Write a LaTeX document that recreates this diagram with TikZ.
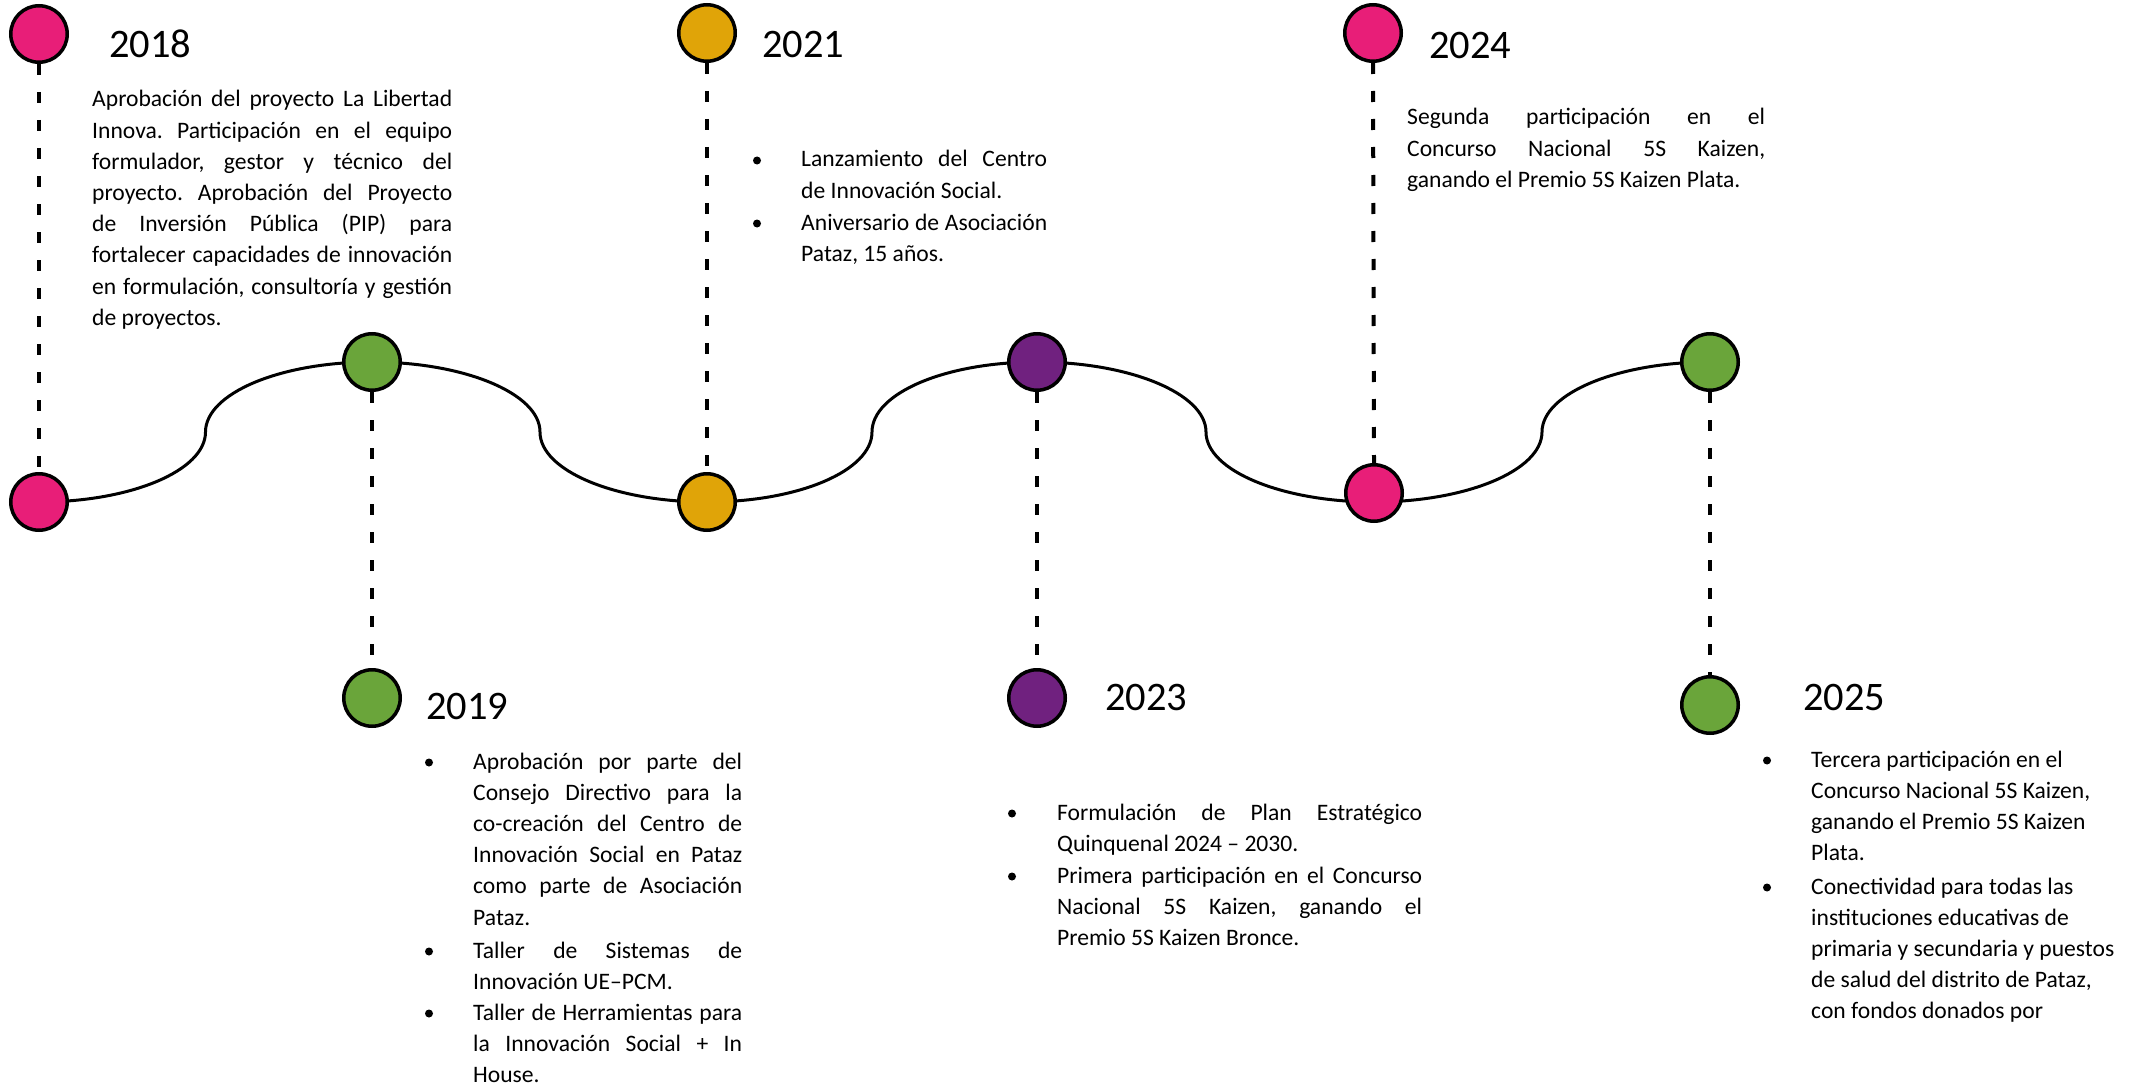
\documentclass[tikz,border=0pt]{standalone}
\usepackage{fontspec}
\setmainfont{Carlito}
\usetikzlibrary{backgrounds}
\definecolor{cpink}{RGB}{232,30,120}
\definecolor{cgreen}{RGB}{106,165,58}
\definecolor{cgold}{RGB}{224,164,8}
\definecolor{cpurple}{RGB}{112,33,127}
\hbadness=10000 \hfuzz=60pt
\frenchspacing
\newcommand\jl[1]{\hbox to\linewidth{#1}}
\newcommand\jlast[1]{\hbox to\linewidth{#1\hfil}}
\newcommand\tb[2]{\parbox[t]{#1}{\frenchspacing\fontsize{23.6}{31.2}\selectfont #2}}
\tikzset{
  dot/.style={circle, draw=black, line width=3.5pt, minimum size=56.5pt, inner sep=0pt},
  year/.style={inner sep=0pt, anchor=base west, font=\fontsize{40.5}{48}\selectfont},
  body/.style={inner sep=0pt, anchor=base west},
  bul/.style={circle, fill=black, minimum size=8pt, inner sep=0pt},
  dashline/.style={line width=4pt, dash pattern=on 11pt off 17pt},
  wave/.style={line width=3pt},
  up/.style={out=0, in=-90, out distance=92pt, in distance=38.6pt},
  upb/.style={out=90, in=180, out distance=38.6pt, in distance=92pt},
  dn/.style={out=0, in=90, out distance=92pt, in distance=38.6pt},
  dnb/.style={out=-90, in=180, out distance=38.6pt, in distance=92pt}
}
\begin{document}
\begin{tikzpicture}[x=1pt, y=1pt]
\useasboundingbox (0,0) rectangle (2147,-1089);
% circles
\node[dot, fill=cpink] (t18) at (39,-34) {};
\node[dot, fill=cpink] (b18) at (39,-502) {};
\node[dot, fill=cgreen] (t19) at (372,-362) {};
\node[dot, fill=cgreen] (b19) at (372,-698) {};
\node[dot, fill=cgold] (t21) at (707,-33) {};
\node[dot, fill=cgold] (b21) at (707,-502) {};
\node[dot, fill=cpurple] (t23) at (1037,-362) {};
\node[dot, fill=cpurple] (b23) at (1037,-698) {};
\node[dot, fill=cpink] (t24) at (1373,-33) {};
\node[dot, fill=cpink] (b24) at (1374,-493) {};
\node[dot, fill=cgreen] (t25) at (1710,-362) {};
\node[dot, fill=cgreen] (b25) at (1710,-705) {};
% wave coordinates
\coordinate (m1) at (205.5,-432);
\coordinate (m2) at (540,-432);
\coordinate (m3) at (872,-432);
\coordinate (m4) at (1206,-432);
\coordinate (w24) at (1374,-502);
\coordinate (m5) at (1542,-432);
\begin{scope}[on background layer]
\draw[wave] (b18.center) to[up] (m1) to[upb] (t19.center)
  to[dn] (m2) to[dnb] (b21.center)
  to[up] (m3) to[upb] (t23.center)
  to[dn] (m4) to[dnb] (w24)
  to[up] (m5) to[upb] (t25.center);
\draw[dashline] (t18.south) -- (b18.north);
\draw[dashline] (t19.south) -- (b19.north);
\draw[dashline] (t21.south) -- (b21.north);
\draw[dashline] (t23.south) -- (b23.north);
\draw[dashline] (t24.south) -- (b24.north);
\draw[dashline] (t25.south) -- (b25.north);
\end{scope}
% years
\node[year] (y18) at (109,-58) {2018};
\node[year] (y19) at (426,-719) {2019};
\node[year] (y21) at (762,-58) {2021};
\node[year] (y23) at (1105,-710) {2023};
\node[year] (y24) at (1429,-59) {2024};
\node[year] (y25) at (1803,-710) {2025};
% 2018
\node[body] (x18) at (92,-107) {\tb{360pt}{%
\jl{Aprobación del proyecto La Libertad}
\jl{Innova. Participación en el equipo}
\jl{formulador, gestor y técnico del}
\jl{proyecto. Aprobación del Proyecto}
\jl{de Inversión Pública (PIP) para}
\jl{fortalecer capacidades de innovación}
\jl{en formulación, consultoría y gestión}
\jlast{de proyectos.}}};
% 2019
\node[bul] (u19a) at (429,-762.5) {};
\node[body] (x19a) at (473,-769) {\tb{269pt}{%
\jl{Aprobación por parte del}
\jl{Consejo Directivo para la}
\jl{co-creación del Centro de}
\jl{Innovación Social en Pataz}
\jl{como parte de Asociación}
\jlast{Pataz.}}};
\node[bul] (u19b) at (429,-951.5) {};
\node[body] (x19b) at (473,-958) {\tb{269pt}{%
\jl{Taller de Sistemas de}
\jlast{Innovación UE–PCM.}}};
\node[bul] (u19c) at (429,-1013.5) {};
\node[body] (x19c) at (473,-1020) {\tb{269pt}{%
\jl{Taller de Herramientas para}
\jl{la Innovación Social + In}
\jlast{House.}}};
% 2021
\node[bul] (u21a) at (757,-160.5) {};
\node[body] (x21a) at (801,-167) {\tb{246pt}{%
\jl{Lanzamiento del Centro}
\jlast{de Innovación Social.}}};
\node[bul] (u21b) at (757,-223.5) {};
\node[body] (x21b) at (801,-230) {\tb{246pt}{%
\jl{Aniversario de Asociación}
\jlast{Pataz, 15 años.}}};
% 2023
\node[bul] (u23a) at (1012,-813.5) {};
\node[body] (x23a) at (1057,-820) {\tb{365pt}{%
\jl{Formulación de Plan Estratégico}
\jlast{Quinquenal 2024 – 2030.}}};
\node[bul] (u23b) at (1012,-876.5) {};
\node[body] (x23b) at (1057,-883) {\tb{365pt}{%
\jl{Primera participación en el Concurso}
\jl{Nacional 5S Kaizen, ganando el}
\jlast{Premio 5S Kaizen Bronce.}}};
% 2024
\node[body] (x24) at (1407,-125) {\tb{358pt}{%
\jl{Segunda participación en el}
\jl{Concurso Nacional 5S Kaizen,}
\jlast{ganando el Premio 5S Kaizen Plata.}}};
% 2025
\node[bul] (u25a) at (1767,-760.5) {};
\node[body] (x25a) at (1811,-767) {\tb{320pt}{%
\jlast{Tercera participación en el}
\jlast{Concurso Nacional 5S Kaizen,}
\jlast{ganando el Premio 5S Kaizen}
\jlast{Plata.}}};
\node[bul] (u25b) at (1767,-887.5) {};
\node[body] (x25b) at (1811,-894) {\tb{320pt}{%
\jlast{Conectividad para todas las}
\jlast{instituciones educativas de}
\jlast{primaria y secundaria y puestos}
\jlast{de salud del distrito de Pataz,}
\jlast{con fondos donados por}}};
\end{tikzpicture}
\end{document}
